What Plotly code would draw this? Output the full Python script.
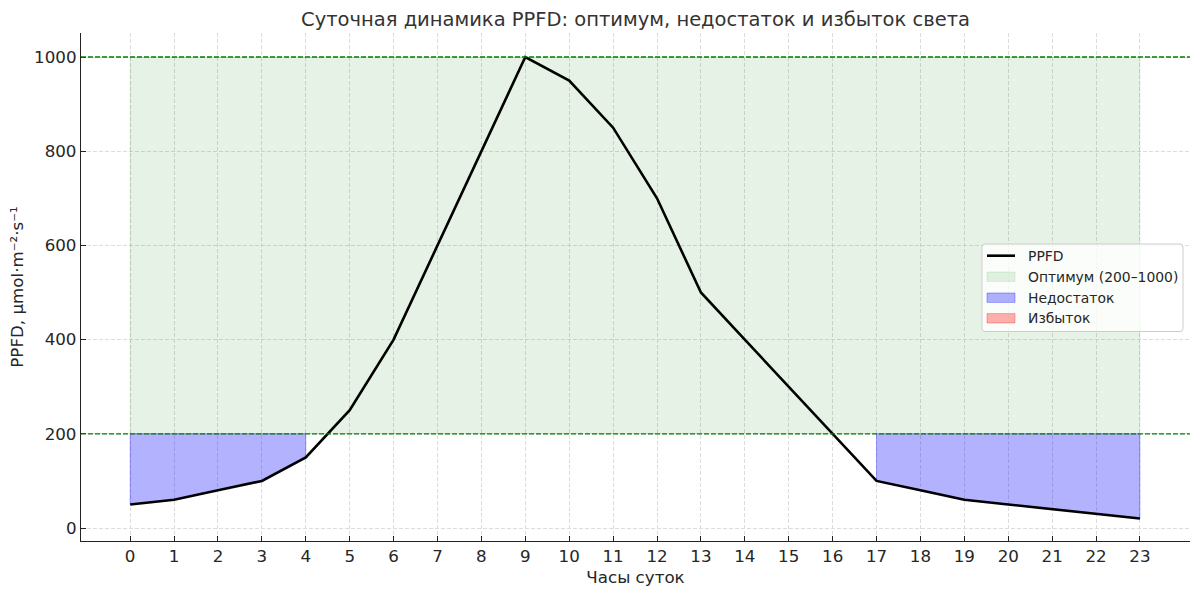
import plotly.graph_objects as go

# ---- data ----
hours = list(range(24))
ppfd = [50, 60, 80, 100, 150, 250, 400, 600, 800, 1000, 950, 850,
        700, 500, 400, 300, 200, 100, 80, 60, 50, 40, 30, 20]
opt_low = 200
opt_high = 1000
x_ticks = list(range(24))
y_ticks = [0, 200, 400, 600, 800, 1000]

title = "Суточная динамика PPFD: оптимум, недостаток и избыток света"
x_label = "Часы суток"
y_label = "PPFD, μmol·m⁻²·s⁻¹"
names = ["PPFD", "Оптимум (200–1000)", "Недостаток", "Избыток"]

FONT = "DejaVu Sans"
TXT = "#262626"
C_OPT = "rgba(0,128,0,0.1)"
C_DEF = "rgba(0,0,255,0.3)"
C_EXC = "rgba(255,0,0,0.3)"

# plot-area geometry in pixels
W, H = 1200, 596
L, R, T, B = 81, 10, 33, 55
PW, PH = W - L - R, H - T - B


def px(x):
    return (x - L) / PW


def py(y):
    return (H - B - y) / PH


def segments(mask):
    segs, cur = [], []
    for i, m in enumerate(mask):
        if m:
            cur.append(i)
        elif cur:
            segs.append(cur)
            cur = []
    if cur:
        segs.append(cur)
    return segs


fig = go.Figure()

# optimum band
fig.add_trace(go.Scatter(
    x=[hours[0], hours[-1], hours[-1], hours[0], hours[0]],
    y=[opt_low, opt_low, opt_high, opt_high, opt_low],
    fill="toself", fillcolor=C_OPT, line=dict(color=C_OPT, width=1),
    mode="lines", name=names[1], hoverinfo="skip"))

# deficit polygons
for seg in segments([v < opt_low for v in ppfd]):
    xs = [hours[i] for i in seg] + [hours[i] for i in reversed(seg)]
    ys = [ppfd[i] for i in seg] + [opt_low] * len(seg)
    fig.add_trace(go.Scatter(
        x=xs + [xs[0]], y=ys + [ys[0]], fill="toself", fillcolor=C_DEF,
        line=dict(color=C_DEF, width=1), mode="lines", name=names[2],
        hoverinfo="skip"))

# excess polygons (none in this data)
for seg in segments([v > opt_high for v in ppfd]):
    xs = [hours[i] for i in seg] + [hours[i] for i in reversed(seg)]
    ys = [ppfd[i] for i in seg] + [opt_high] * len(seg)
    fig.add_trace(go.Scatter(
        x=xs + [xs[0]], y=ys + [ys[0]], fill="toself", fillcolor=C_EXC,
        line=dict(color=C_EXC, width=1), mode="lines", name=names[3],
        hoverinfo="skip"))

# PPFD line
fig.add_trace(go.Scatter(
    x=hours, y=ppfd, mode="lines", name=names[0],
    line=dict(color="black", width=2.6)))

# threshold lines
for yv in (opt_low, opt_high):
    fig.add_shape(type="line", xref="paper", yref="y", x0=0, x1=1,
                  y0=yv, y1=yv,
                  line=dict(color="green", width=1.3, dash="5px,2px"))

# ---- legend (drawn box, swatches and text) ----
lx0, lx1, ly0, ly1 = 982, 1183, 244, 331.5
rad = 3
path = (f"M {px(lx0 + rad)} {py(ly0)} L {px(lx1 - rad)} {py(ly0)} "
        f"Q {px(lx1)} {py(ly0)} {px(lx1)} {py(ly0 + rad)} "
        f"L {px(lx1)} {py(ly1 - rad)} Q {px(lx1)} {py(ly1)} {px(lx1 - rad)} {py(ly1)} "
        f"L {px(lx0 + rad)} {py(ly1)} Q {px(lx0)} {py(ly1)} {px(lx0)} {py(ly1 - rad)} "
        f"L {px(lx0)} {py(ly0 + rad)} Q {px(lx0)} {py(ly0)} {px(lx0 + rad)} {py(ly0)} Z")
fig.add_shape(type="path", xref="paper", yref="paper", path=path,
              fillcolor="rgba(255,255,255,0.8)",
              line=dict(color="#cccccc", width=1), layer="above")

rows = [255.7, 276.7, 297.7, 318.3]
sw0, sw1 = 987, 1015
fig.add_shape(type="line", xref="paper", yref="paper",
              x0=px(sw0), x1=px(sw1), y0=py(rows[0]), y1=py(rows[0]),
              line=dict(color="black", width=2.6), layer="above")
for r, col in zip(rows[1:], [C_OPT, C_DEF, C_EXC]):
    fig.add_shape(type="rect", xref="paper", yref="paper",
                  x0=px(sw0), x1=px(sw1), y0=py(r - 4.7), y1=py(r + 4.7),
                  fillcolor=col, line=dict(color=col, width=1), layer="above")
for r, nm in zip(rows, names):
    fig.add_annotation(xref="paper", yref="paper", x=px(1026), y=py(r),
                       xanchor="left", yanchor="middle", text=nm,
                       showarrow=False,
                       font=dict(family=FONT, size=13.9, color=TXT))

axis_common = dict(
    showline=True, linecolor="#222", linewidth=1.3, mirror=False,
    ticks="inside", ticklen=5, tickwidth=1, tickcolor="#222",
    showgrid=True, gridcolor="#dcdcdc", griddash="4px,2px", gridwidth=1,
    zeroline=False, automargin=False,
    tickfont=dict(family=FONT, size=16.7, color=TXT),
)

fig.update_layout(
    width=W, height=H,
    paper_bgcolor="white", plot_bgcolor="white",
    margin=dict(l=L, r=R, t=T, b=B),
    showlegend=False,
    title=dict(text=title, x=635.5 / W, xanchor="center",
               y=1 - 19 / H, yanchor="middle",
               font=dict(family=FONT, size=19.5, color="#333")),
    xaxis=dict(range=[-1.12, 24.14], tickmode="array", tickvals=x_ticks,
               title=dict(text=x_label, standoff=6,
                          font=dict(family=FONT, size=16.7, color=TXT)),
               **axis_common),
    yaxis=dict(range=[-27.6, 1051], tickmode="array", tickvals=y_ticks,
               title=dict(text=y_label, standoff=6,
                          font=dict(family=FONT, size=16.7, color=TXT)),
               **axis_common),
)

fig.write_html("out.html",
               config={"displayModeBar": False},
               post_script="document.body.style.margin='0';"
                           "document.body.style.padding='0';")
